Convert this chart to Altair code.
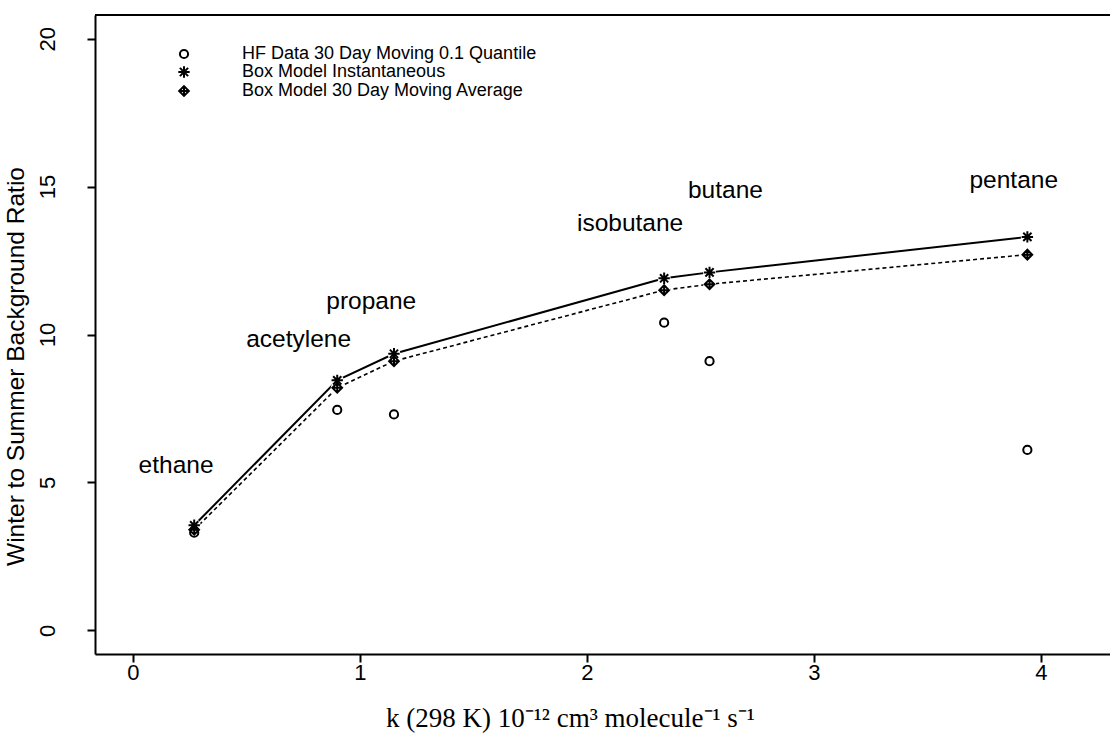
import altair as alt
import pandas as pd

# ---- data ----
compounds = ["ethane", "acetylene", "propane", "isobutane", "butane", "pentane"]
k_rate = [0.27, 0.90, 1.15, 2.34, 2.54, 3.94]
hf_quantile = [3.3, 7.45, 7.3, 10.4, 9.1, 6.1]
box_inst = [3.55, 8.45, 9.35, 11.9, 12.1, 13.3]
box_avg = [3.4, 8.2, 9.1, 11.5, 11.7, 12.7]
label_x = [0.19, 0.73, 1.05, 2.19, 2.61, 3.88]
label_y = [5.55, 9.8, 11.1, 13.75, 14.85, 15.2]
series_names = ["HF Data 30 Day Moving 0.1 Quantile",
                "Box Model Instantaneous",
                "Box Model 30 Day Moving Average"]
x_ticks = [0, 1, 2, 3, 4]
y_ticks = [0, 5, 10, 15, 20]

rows = []
for name, vals in zip(series_names, [hf_quantile, box_inst, box_avg]):
    for c, kk, v in zip(compounds, k_rate, vals):
        rows.append({"compound": c, "k": kk, "ratio": v, "series": name})
df = pd.DataFrame(rows)
labels_df = pd.DataFrame({"compound": compounds, "lx": label_x, "ly": label_y})

W, H = 1015, 639
FONT = "Liberation Sans"

xscale = alt.Scale(domain=[-0.167, 4.304], nice=False, zero=False)
yscale = alt.Scale(domain=[-0.8, 20.8], nice=False, zero=False)

xenc = alt.X("k:Q", scale=xscale, axis=alt.Axis(
    values=x_ticks, format="d", title="k (298 K) 10⁻¹² cm³ molecule⁻¹ s⁻¹",
    grid=False, tickSize=8, tickWidth=2, tickColor="black",
    domainColor="black", domainWidth=2,
    labelFont=FONT, labelFontSize=22, labelColor="black", labelPadding=0,
    labelFlush=False,
    titleFont="Liberation Serif", titleFontSize=27, titleFontWeight="normal",
    titleColor="black", titleX=475, titleY=72, titleAlign="center",
    titleBaseline="alphabetic"))
yenc = alt.Y("ratio:Q", scale=yscale, axis=alt.Axis(
    values=y_ticks, format="d", title="Winter to Summer Background Ratio",
    grid=False, tickSize=8, tickWidth=2, tickColor="black",
    domainColor="black", domainWidth=2,
    labelFont=FONT, labelFontSize=22, labelColor="black", labelAngle=270,
    labelAlign="center", labelBaseline="middle", labelPadding=40,
    labelFlush=False,
    titleFont=FONT, titleFontSize=24.5, titleFontWeight="normal",
    titleColor="black", titleAngle=270, titleX=-79, titleY=351,
    titleAlign="center", titleBaseline="middle"))

base = alt.Chart(df)

line_inst = base.transform_filter(
    alt.datum.series == series_names[1]
).mark_line(color="black", strokeWidth=2).encode(x=xenc, y=yenc, order="k:Q")

line_avg = base.transform_filter(
    alt.datum.series == series_names[2]
).mark_line(color="black", strokeWidth=1.6, strokeDash=[4, 3]).encode(
    x="k:Q", y="ratio:Q", order="k:Q")

mask = base.transform_filter(
    alt.datum.series != series_names[0]
).mark_point(filled=True, color="white", opacity=1, size=170).encode(
    x="k:Q", y="ratio:Q")

CIRC = "M0.72,0A0.72,0.72 0 1,1 -0.72,0A0.72,0.72 0 1,1 0.72,0Z"
ASTER = "M-1,0L1,0M0,-1L0,1M-0.72,-0.72L0.72,0.72M-0.72,0.72L0.72,-0.72"
DIAPLUS = "M0,-0.85L0.85,0L0,0.85L-0.85,0ZM-0.85,0L0.85,0M0,-0.85L0,0.85"

points = base.mark_point(filled=False, color="black", strokeWidth=2,
                         opacity=1, size=130).encode(
    x="k:Q", y="ratio:Q",
    shape=alt.Shape("series:N",
                    scale=alt.Scale(domain=series_names,
                                    range=[CIRC, ASTER, DIAPLUS]),
                    legend=alt.Legend(
                        title=None, orient="none", legendX=80, legendY=30,
                        padding=0, labelFont=FONT, labelFontSize=18,
                        labelColor="black", labelOffset=49, labelLimit=600,
                        symbolStrokeColor="black", symbolStrokeWidth=2,
                        symbolSize=130, rowPadding=-5,
                        symbolFillColor="white")))

text = alt.Chart(labels_df).mark_text(
    font=FONT, fontSize=24.5, color="black", align="center", baseline="middle"
).encode(x="lx:Q", y="ly:Q", text="compound:N")

top_rule = alt.Chart(labels_df).mark_rule(color="black", strokeWidth=2).encode(
    x=alt.value(0), x2=alt.value(W), y=alt.value(0))

chart = alt.layer(line_inst, line_avg, mask, points, text, top_rule).properties(
    width=W, height=H,
    autosize=alt.AutoSizeParams(type="none"),
    padding={"left": 95, "top": 15, "right": 0, "bottom": 85},
).configure_view(stroke=None).configure(background="white")

chart.save("out.html", embed_options={"renderer": "svg", "actions": False})
